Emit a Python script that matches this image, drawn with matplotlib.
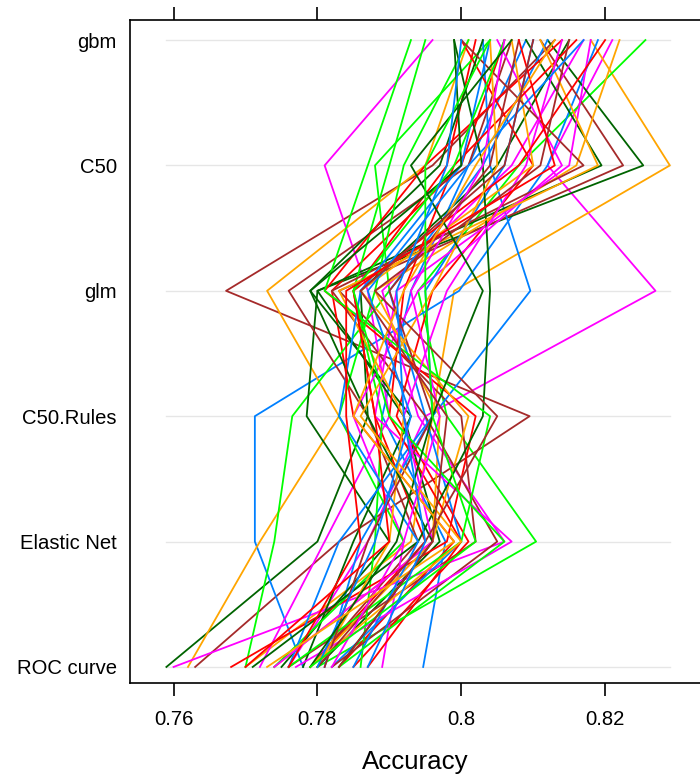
import matplotlib
matplotlib.use("Agg")
import matplotlib.pyplot as plt

plt.rcParams['font.family'] = ['Liberation Sans', 'DejaVu Sans']

# models, bottom to top
models = ['ROC curve', 'Elastic Net', 'C50.Rules', 'glm', 'C50', 'gbm']

# one value per resample (50 resamples) for each model
roc = [.7947, .7760, .7590, .7790, .7700, .7800, .7630, .7780, .7720, .7800,
       .7830, .7620, .7700, .7760, .7810, .7600, .7750, .7850, .7740, .7860,
       .7790, .7820, .7890, .7780, .7680, .7790, .7740, .7820, .7760, .7770,
       .7710, .7870, .7800, .7760, .7810, .7850, .7740, .7830, .7700, .7790,
       .7830, .7800, .7800, .7820, .7790, .7760, .7730, .7790, .7830, .7870]
enet = [.7978, .7870, .7800, .7950, .7930, .8104, .7830, .7713, .7810, .7970,
        .7990, .7720, .7740, .8020, .7860, .8060, .7900, .8010, .7960, .7880,
        .7940, .8000, .7920, .7850, .7980, .7960, .7920, .8050, .7830, .8070,
        .7940, .8000, .7900, .8000, .7870, .7940, .7960, .7960, .7900, .8000,
        .8060, .7950, .7880, .7920, .7910, .7860, .7990, .8020, .7960, .7950]
c50_rules = [.7890, .7950, .7870, .7880, .7960, .7980, .8095, .7713, .7900, .7920,
             .7850, .7830, .7765, .8000, .7960, .7940, .7785, .7910, .7970, .7890,
             .7870, .7950, .7850, .7930, .8020, .8010, .7830, .7950, .7960, .7880,
             .8030, .7900, .7920, .8040, .7960, .7830, .7920, .7870, .7880, .7860,
             .7900, .8050, .7930, .7970, .7960, .7840, .7850, .7960, .7980, .7920]
glm = [.7930, .8270, .7860, .7850, .7990, .7940, .7673, .7997, .7870, .7800,
       .7820, .7730, .7900, .7830, .8096, .7890, .7800, .7960, .7880, .7850,
       .7760, .7900, .7940, .7790, .7810, .7860, .7880, .7820, .7950, .7910,
       .8040, .7920, .7830, .7810, .7900, .7860, .7980, .7790, .7850, .7960,
       .7850, .7880, .7870, .7930, .8030, .7840, .7920, .7950, .7860, .7910]
c50 = [.8010, .8120, .8050, .7980, .8290, .8080, .7960, .8120, .7810, .8253,
       .8000, .7950, .7880, .8225, .8040, .8070, .8195, .8100, .8160, .7900,
       .8010, .8030, .8140, .7970, .7950, .8100, .7920, .8170, .8060, .8150,
       .8030, .7990, .8190, .7870, .8040, .8000, .8090, .8000, .8080, .8050,
       .7990, .8110, .8010, .8030, .7930, .8130, .8020, .7950, .8060, .7980]
gbm = [.8090, .8210, .8150, .8020, .8180, .8256, .8130, .8190, .7960, .8120,
       .8060, .8010, .8040, .8110, .8030, .8170, .8090, .8000, .8220, .7950,
       .8070, .8120, .8050, .8030, .8140, .8070, .8010, .8000, .8100, .8180,
       .7990, .8160, .8110, .7930, .8080, .8040, .8140, .7990, .8200, .8040,
       .8060, .8150, .8170, .8060, .8070, .8080, .8130, .8040, .8100, .8000]

tick_vals = [0.76, 0.78, 0.80, 0.82]
tick_labels = ['0.76', '0.78', '0.8', '0.82']

# lattice superpose colours
colors = ['#0080ff', '#ff00ff', '#006400', '#ff0000', '#ffa500', '#00ff00', '#a52a2a']

fig = plt.figure(figsize=(7, 7.78), dpi=100)
ax = fig.add_axes([130 / 700, 1 - 683 / 778, 570 / 700, 663 / 778])

series = list(zip(roc, enet, c50_rules, glm, c50, gbm))
ypos = list(range(len(models)))

allvals = roc + enet + c50_rules + glm + c50 + gbm
lo, hi = min(allvals), max(allvals)
for y in ypos:
    ax.plot([lo, hi], [y, y], color='#e6e6e6', lw=1, zorder=1)

for i, row in enumerate(series):
    ax.plot(row, ypos, color=colors[i % len(colors)], lw=1.3, zorder=2)

ax.set_xlim(0.75394, 0.83319)
ax.set_ylim(-0.128, 5.16)

ax.set_yticks(ypos)
ax.set_yticklabels(models, fontsize=14.6)
ax.tick_params(axis='y', length=0, pad=9.5)

ax.set_xticks(tick_vals)
ax.set_xticklabels(tick_labels, fontsize=14.6)
ax.tick_params(axis='x', direction='out', length=9.5, width=1.2, pad=10,
               top=True, labeltop=False)

for side in ['left', 'top', 'bottom']:
    ax.spines[side].set_linewidth(1.2)
ax.spines['right'].set_visible(False)

ax.set_xlabel('Accuracy', fontsize=18.6, labelpad=15)

fig.savefig('out.png', dpi=100)
plt.close(fig)
